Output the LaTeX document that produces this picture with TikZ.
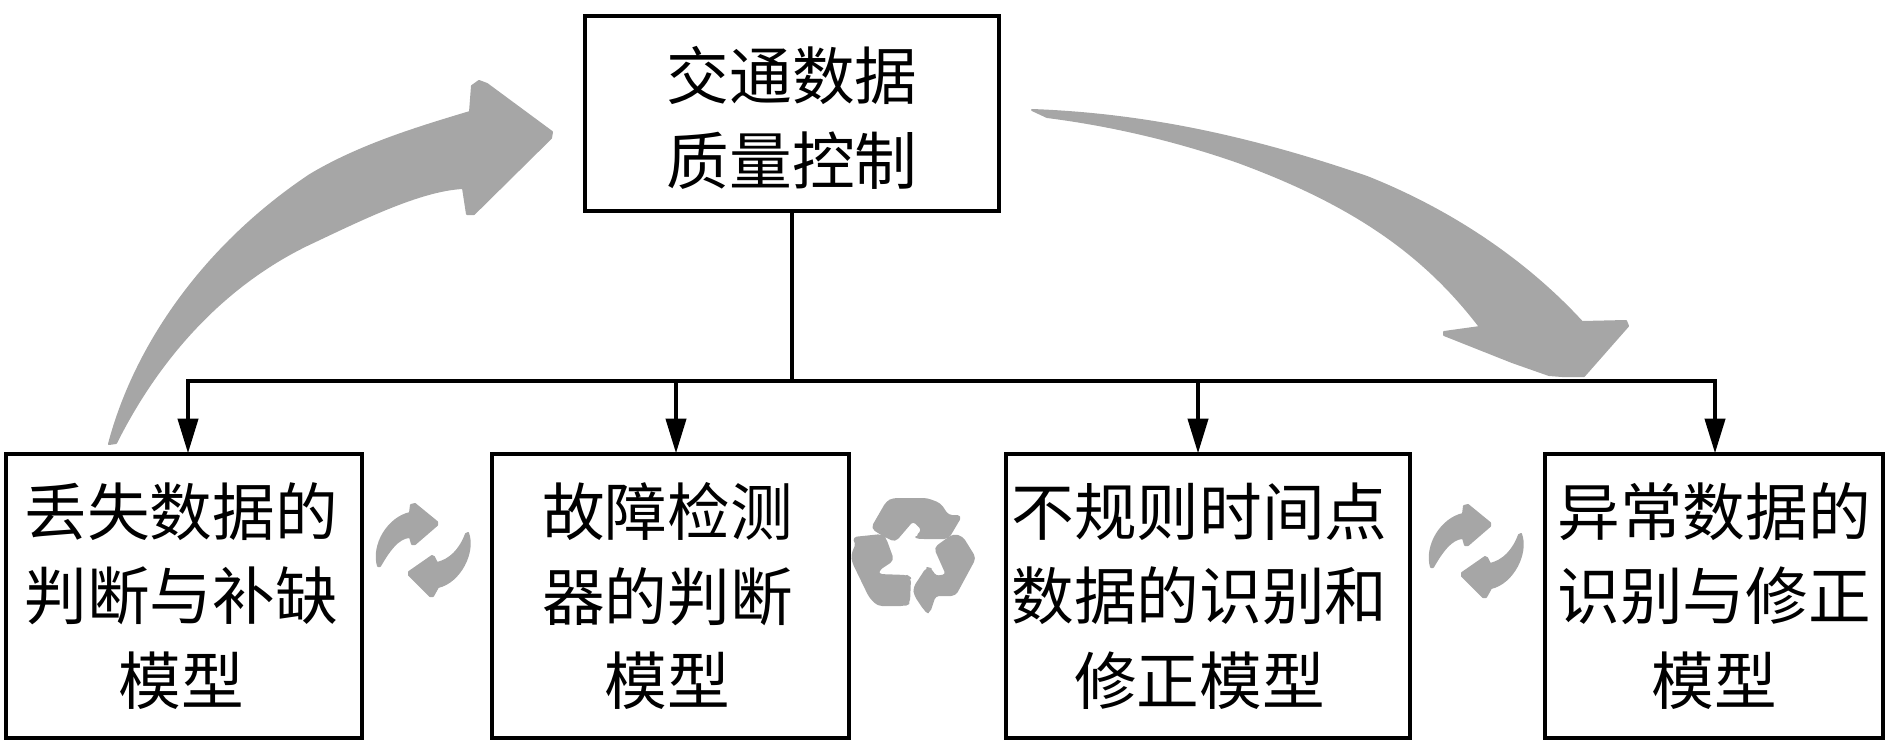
\documentclass[tikz,border=0pt]{standalone}
\usepackage{fontspec}
\usetikzlibrary{arrows.meta}
\newfontfamily\cjk{Noto Sans CJK SC}
\definecolor{arrowgray}{rgb}{0.65,0.65,0.65}
\tikzset{every picture/.style={line width=0.75pt}}
\tikzset{
  box/.style={draw,line width=3pt,inner sep=0pt},
  boxtext/.style={inner sep=0pt,align=center,font=\cjk\fontsize{47}{63.3}\selectfont},
  conn/.style={line width=3pt},
  connarrow/.style={conn,-{Triangle[length=26pt,width=15pt]},shorten >=-1pt},
  grayshape/.style={fill=arrowgray,draw=arrowgray,line width=1.5pt,line join=round},
  graysoft/.style={grayshape,rounded corners=3pt}
}

\begin{document}
\begin{tikzpicture}[x=0.75pt,y=0.75pt,yscale=-1,xscale=1]
\useasboundingbox (0,0) rectangle (1890,756);

%Shape: big arrow, left
\draw [grayshape] (109,444) .. controls (135,345) and (205,245) .. (310,175) .. controls (360,145) and (420,127) .. (470,112)
  -- (472,86) -- (479,81) -- (487,84) -- (552,132) -- (551,138) -- (474,214) -- (467,214) -- (463,188)
  .. controls (420,190) and (360,220) .. (307,245) .. controls (225,285) and (160,355) .. (116,443) -- cycle;
%Shape: big arrow, right
\draw [grayshape] (1032,110) .. controls (1140,114) and (1245,135) .. (1367,177) .. controls (1450,210) and (1525,260) .. (1582,322)
  -- (1626,321) -- (1628,326) -- (1584,376) -- (1562,376) -- (1549,375) -- (1512,362) -- (1444,335) -- (1444,332) -- (1480,327)
  .. controls (1425,255) and (1355,205) .. (1238,162) .. controls (1175,140) and (1110,125) .. (1047,117) -- cycle;
%Shape: small turning arrows
\foreach \dx/\dy in {0/0,1053/1} {
  \begin{scope}[shift={(\dx,\dy)}]
    \draw [grayshape] (378,566) .. controls (372,545) and (388,518) .. (410,513)
      -- (411,505) -- (415,504) -- (437,522) -- (437,525) -- (415,544) -- (412,544) -- (410,537)
      .. controls (398,537) and (388,552) .. (380,566) -- cycle;
    \draw [grayshape] (468,533) .. controls (475,552) and (460,582) .. (438,587)
      -- (433,596) -- (430,596) -- (409,575) -- (409,572) -- (432,556) -- (434,557) -- (437,563)
      .. controls (450,560) and (460,550) .. (466,534) -- cycle;
  \end{scope}
}
%Shape: recycle sign
\draw [graysoft] (872,528) -- (887,502) -- (893,499) -- (927,499) -- (940,504) -- (948,516) -- (961,516) -- (948,538) -- (920,538) -- (916,537) -- (923,530) -- (913,520) -- (895,541) -- (883,535) -- cycle;
\draw [graysoft] (853,538) -- (882,535) -- (885,538) -- (893,560) -- (878,570) -- (878,575) -- (907,576) -- (910,578) -- (909,603) -- (905,605) -- (878,605) -- (870,597) -- (853,562) -- (852,555) -- (857,543) -- cycle;
\draw [graysoft] (935,548) -- (953,535) -- (962,537) -- (975,558) -- (955,595) -- (935,595) -- (929,613) -- (925,610) -- (915,595) -- (914,588) -- (927,568) -- (931,569) -- (935,577) -- (947,575) -- cycle;

%Shape: Rectangle
\node (quality) [box,minimum width=310.5pt,minimum height=146.25pt] at (792,113.5) {};
\node (lost) [box,minimum width=267pt,minimum height=213pt] at (184,596) {};
\node (fault) [box,minimum width=267.75pt,minimum height=213pt] at (670.5,596) {};
\node (irregular) [box,minimum width=303pt,minimum height=213pt] at (1208,596) {};
\node (abnormal) [box,minimum width=253.5pt,minimum height=213pt] at (1714,596) {};

% Text Node
\node (qualitytext) [boxtext] at (792,118) {交通数据\\质量控制};
\node (losttext) [boxtext] at (181,596) {丢失数据的\\判断与补缺\\模型};
\node (faulttext) [boxtext] at (667.5,596) {故障检测\\器的判断\\模型};
\node (irregulartext) [boxtext] at (1199.5,596) {不规则时间点\\数据的识别和\\修正模型};
\node (abnormaltext) [boxtext] at (1714,596) {异常数据的\\识别与修正\\模型};

%Straight Lines
\coordinate (bus) at (quality.south |- 0,381);
\coordinate (busa) at (188,381);
\coordinate (busb) at (676,381);
\coordinate (busc) at (1198,381);
\coordinate (busd) at (1715,381);
\draw [conn] (quality.south) -- (bus);
\draw [conn,line cap=rect] (busa) -- (busd);
\draw [connarrow] (busa) -- (busa |- lost.north);
\draw [connarrow] (busb) -- (busb |- fault.north);
\draw [connarrow] (busc) -- (busc |- irregular.north);
\draw [connarrow] (busd) -- (busd |- abnormal.north);

\end{tikzpicture}
\end{document}
